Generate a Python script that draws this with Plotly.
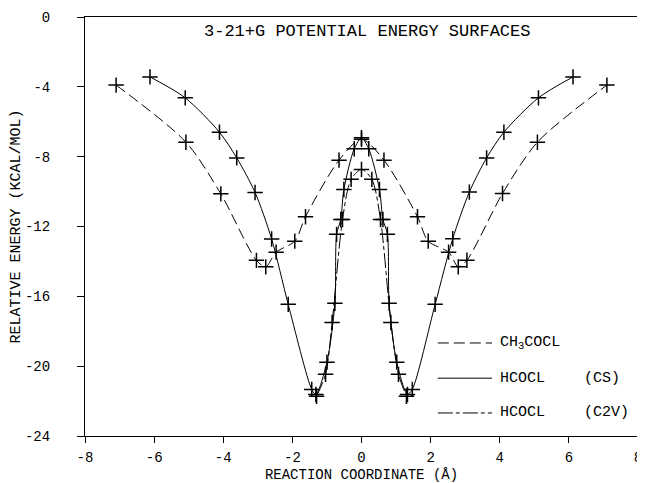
import plotly.graph_objects as go

# ---------------- data ----------------
ch3cocl_x = [-7.1, -5.08, -4.07, -3.04, -2.77, -2.47, -1.93, -1.62, -0.65, 0.0,
             0.65, 1.62, 1.93, 2.52, 2.8, 3.05, 4.08, 5.09, 7.1]
ch3cocl_e = [-3.9, -7.17, -10.13, -13.94, -14.31, -13.47, -12.84, -11.44, -8.2, -7.0,
             -8.2, -11.44, -12.84, -13.47, -14.31, -13.93, -10.11, -7.17, -3.9]

hcocl_cs_x = [-6.12, -5.1, -4.11, -3.61, -3.08, -2.6, -2.12, -1.44, -1.32, -1.0, -0.77,
              -0.72, -0.6, -0.51, -0.21, 0.0, 0.21, 0.52, 0.62, 0.75, 0.8, 1.02, 1.33,
              1.47, 2.13, 2.64, 3.12, 3.62, 4.12, 5.12, 6.12]
hcocl_cs_e = [-3.43, -4.63, -6.6, -8.07, -10.05, -12.72, -16.46, -21.33, -21.62, -19.77,
              -16.4, -12.45, -11.6, -9.88, -7.55, -6.92, -7.55, -9.88, -11.6, -12.45,
              -16.4, -19.77, -21.62, -21.33, -16.46, -12.7, -10.03, -8.07, -6.6, -4.63,
              -3.43]

hcocl_c2v_x = [-1.3, -1.04, -0.85, -0.55, -0.3, 0.0, 0.3, 0.55, 0.85, 1.07, 1.3]
hcocl_c2v_e = [-21.72, -20.47, -17.5, -11.6, -9.3, -8.73, -9.3, -11.6, -17.5, -20.47, -21.72]

x_ticks = [-8, -6, -4, -2, 0, 2, 4, 6, 8]
y_ticks = [0, -4, -8, -12, -16, -20, -24]

title_text = "3-21+G POTENTIAL ENERGY SURFACES"
x_title = "REACTION COORDINATE (Å)"
y_title = "RELATIVE ENERGY (KCAL/MOL)"
legend_names = ["CH<sub>3</sub>COCL", "HCOCL", "HCOCL"]
legend_tags = ["", "(CS)", "(C2V)"]

# ---------------- styles ----------------
FONT = "Liberation Mono, DejaVu Sans Mono, monospace"
DASH_CH3 = "11px,5px"
DASH_CS = "solid"
DASH_C2V = "15px,3px,4px,3px"

series = [
    (ch3cocl_x, ch3cocl_e, DASH_CH3),
    (hcocl_cs_x, hcocl_cs_e, DASH_CS),
    (hcocl_c2v_x, hcocl_c2v_e, DASH_C2V),
]

fig = go.Figure()
for xs, ys, dash in series:
    fig.add_trace(go.Scatter(
        x=xs, y=ys, mode="lines+markers",
        line=dict(color="black", width=1, dash=dash, shape="spline", smoothing=0.8),
        marker=dict(symbol="cross-thin", size=11, line=dict(color="black", width=1.5)),
        showlegend=False, hoverinfo="skip",
    ))

# custom legend (line samples + text)
leg_y = [0.222, 0.138, 0.055]
for (xs, ys, dash), name, tag, yy in zip(series, legend_names, legend_tags, leg_y):
    fig.add_shape(type="line", xref="paper", yref="paper", x0=0.638, x1=0.736, y0=yy, y1=yy,
                  line=dict(color="black", width=1, dash=dash))
    fig.add_annotation(xref="paper", yref="paper", x=0.747, y=yy, text=name, showarrow=False,
                       xanchor="left", yanchor="middle", font=dict(family=FONT, size=15, color="black"))
    if tag:
        fig.add_annotation(xref="paper", yref="paper", x=0.899, y=yy, text=tag, showarrow=False,
                           xanchor="left", yanchor="middle", font=dict(family=FONT, size=15, color="black"))

fig.add_annotation(xref="paper", yref="paper", x=0.51, y=0.993, text=title_text, showarrow=False,
                   xanchor="center", yanchor="top", font=dict(family=FONT, size=17, color="black"))

# the page adds an 8px body margin, so the figure is sized to fit the window
fig.update_layout(
    width=637, height=475,
    margin=dict(l=77, r=7, t=9, b=47, autoexpand=False),
    paper_bgcolor="white", plot_bgcolor="white",
    font=dict(family=FONT, size=13, color="black"),
)
fig.update_xaxes(
    range=[-8, 8], tickvals=x_ticks, ticktext=[str(v) for v in x_ticks],
    showgrid=False, zeroline=False, showline=True, linecolor="black", linewidth=1, mirror=True,
    ticks="outside", ticklen=6, tickcolor="black", tickfont=dict(family=FONT, size=14),
    ticklabeloverflow="allow", automargin=False, ticklabelstandoff=2,
    title=dict(text=x_title, font=dict(family=FONT, size=14), standoff=7),
)
fig.update_yaxes(
    range=[-24, 0], tickvals=y_ticks, ticktext=[str(v) for v in y_ticks],
    showgrid=False, zeroline=False, showline=True, linecolor="black", linewidth=1, mirror=True,
    ticks="outside", ticklen=7, tickcolor="black", tickfont=dict(family=FONT, size=14),
    ticklabelstandoff=24, ticklabeloverflow="allow", automargin=False,
    title=dict(text=y_title, font=dict(family=FONT, size=15), standoff=9),
)

fig.write_html("out.html")
